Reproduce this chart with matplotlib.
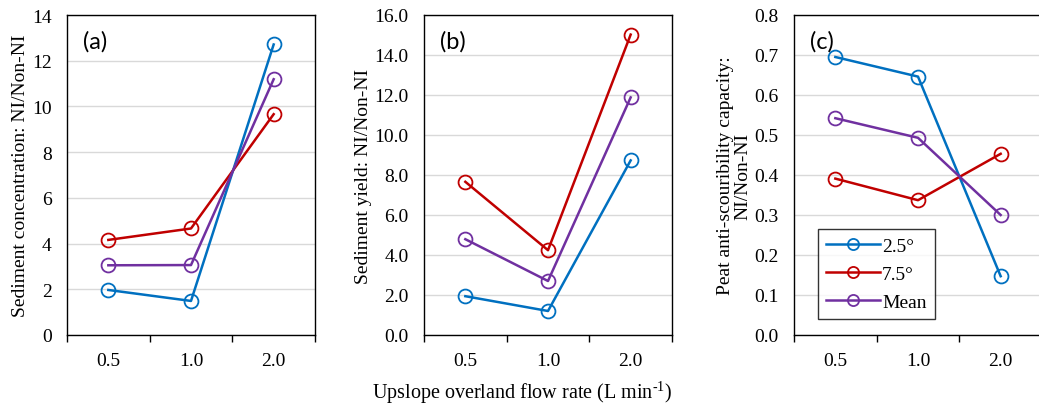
import matplotlib.pyplot as plt
from matplotlib.ticker import FixedLocator, FormatStrFormatter, NullFormatter

# flow rate categories (L/min)
flow_rates = ["0.5", "1.0", "2.0"]

# (a) sediment concentration ratio NI/Non-NI
conc_25 = [1.97, 1.49, 12.71]
conc_75 = [4.16, 4.66, 9.66]
conc_mean = [3.05, 3.06, 11.19]

# (b) sediment yield ratio NI/Non-NI
yield_25 = [1.94, 1.20, 8.73]
yield_75 = [7.66, 4.24, 15.02]
yield_mean = [4.79, 2.70, 11.88]

# (c) peat anti-scouribility capacity ratio NI/Non-NI
anti_25 = [0.695, 0.646, 0.147]
anti_75 = [0.391, 0.337, 0.453]
anti_mean = [0.542, 0.493, 0.300]

series_labels = ["2.5\u00b0", "7.5\u00b0", "Mean"]
series_colors = ["#0070C0", "#C00000", "#7030A0"]

plt.rcParams['font.family'] = ['Liberation Serif', 'DejaVu Serif']
plt.rcParams['mathtext.fontset'] = 'custom'
plt.rcParams['mathtext.rm'] = 'Liberation Serif'

W, H = 1039, 406
fig = plt.figure(figsize=(W / 100, H / 100), dpi=100)


def make_axes(left_px, right_px, top_px=16, bottom_px=336):
    """ axes placed by pixel box """
    return fig.add_axes([left_px / W, (H - bottom_px) / H,
                         (right_px - left_px) / W, (bottom_px - top_px) / H])


def draw_panel(ax, data, ylim, ystep, yfmt, ylabel, tag):
    """ draw one panel with three series over the flow categories """
    xs = [i + 0.5 for i in range(len(flow_rates))]
    for values, label, color in zip(data, series_labels, series_colors):
        ax.plot(xs, values, color=color, lw=1.8, marker='o', markersize=10,
                markerfacecolor='none', markeredgewidth=1.3, label=label)

    ax.set_xlim(0, len(flow_rates))
    ax.set_ylim(*ylim)

    # tick marks sit on category boundaries, labels at category centres
    ax.xaxis.set_major_locator(FixedLocator(range(len(flow_rates) + 1)))
    ax.xaxis.set_major_formatter(NullFormatter())
    ax.xaxis.set_minor_locator(FixedLocator(xs))
    ax.set_xticklabels(flow_rates, minor=True)
    ax.tick_params(axis='x', which='major', direction='out', length=5, width=1)
    ax.tick_params(axis='x', which='minor', length=0, pad=12, labelsize=14)

    n = int(round((ylim[1] - ylim[0]) / ystep))
    ax.set_yticks([ylim[0] + k * ystep for k in range(n + 1)])
    ax.yaxis.set_major_formatter(FormatStrFormatter(yfmt))
    ax.tick_params(axis='y', length=0, pad=11, labelsize=14)

    ax.grid(axis='y', color='#D9D9D9', lw=1)
    ax.set_axisbelow(True)
    for side in ax.spines:
        ax.spines[side].set_color('black')
        ax.spines[side].set_linewidth(1.0)

    ax.set_ylabel(ylabel, fontsize=14, labelpad=2, linespacing=1.05)
    ax.text(0.065, 0.92, tag, transform=ax.transAxes, fontsize=17,
            family=['Lato', 'DejaVu Sans'], va='center', ha='left')


ax_a = make_axes(67, 315)
draw_panel(ax_a, [conc_25, conc_75, conc_mean], (0, 14), 2, '%d',
           "Sediment concentration: NI/Non-NI", "(a)")

ax_b = make_axes(424, 672)
draw_panel(ax_b, [yield_25, yield_75, yield_mean], (0, 16), 2, '%.1f',
           "Sediment yield: NI/Non-NI", "(b)")

ax_c = make_axes(794, 1042)
draw_panel(ax_c, [anti_25, anti_75, anti_mean], (0, 0.8), 0.1, '%.1f',
           "Peat anti-scouribility capacity:\nNI/Non-NI", "(c)")

leg = ax_c.legend(loc='lower left', bbox_to_anchor=(0.097, 0.05), fontsize=14,
                  frameon=True, fancybox=False, edgecolor='black',
                  handlelength=2.8, handletextpad=0.1, borderpad=0.4,
                  labelspacing=0.55, markerscale=0.8, borderaxespad=0)
leg.get_frame().set_linewidth(1.0)

fig.text(522 / W, (H - 393) / H, "Upslope overland flow rate (L min$^{\\text{-1}}$)",
         ha='center', va='center', fontsize=14.5)

fig.savefig("out.png", dpi=100)
